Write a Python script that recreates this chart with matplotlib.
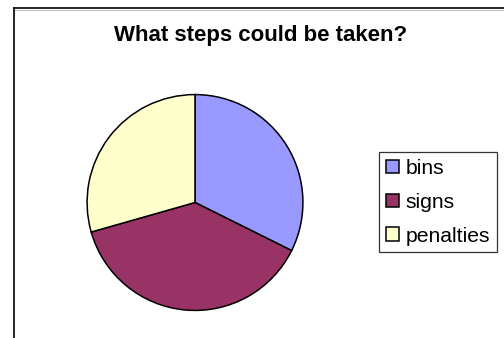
import matplotlib
matplotlib.use("Agg")
import matplotlib.pyplot as plt
from matplotlib.lines import Line2D

# Survey answers
categories = ["bins", "signs", "penalties"]
counts = [11, 13, 10]
colors = ["#9999FF", "#993366", "#FFFFCC"]
title = "What steps could be taken?"

W, H = 504, 338
fig = plt.figure(figsize=(W / 100, H / 100), dpi=100)
fig.patch.set_facecolor("white")
plt.rcParams["font.family"] = ["Liberation Sans", "DejaVu Sans"]

def px(x0, y0, w, h):
    """Convert a pixel box (top-left origin) to figure fractions."""
    return [x0 / W, 1 - (y0 + h) / H, w / W, h / H]

# Pie area: centre (195, 202), radius 109 px
cx, cy, r = 195, 202.5, 109
ax = fig.add_axes(px(cx - r, cy - r, 2 * r, 2 * r))
wedges, _ = ax.pie(counts, colors=colors, startangle=90, counterclock=False,
                   radius=1.0,
                   wedgeprops=dict(edgecolor="black", linewidth=1.1))
ax.set_xlim(-1.01, 1.01)
ax.set_ylim(-1.01, 1.01)
ax.set_aspect("equal")
ax.axis("off")

# Title
fig.text(261 / W, 1 - 40.5 / H, title, ha="center", va="baseline",
         fontsize=16.0, fontweight="bold", color="black")

# Legend
leg = fig.legend(wedges, categories, loc="upper left",
                 bbox_to_anchor=(379 / W, 1 - 152 / H),
                 bbox_transform=fig.transFigure,
                 fontsize=15.2, frameon=True, fancybox=False,
                 handlelength=0.6, handleheight=0.6, handletextpad=0.33,
                 labelspacing=0.7, borderpad=0.33, borderaxespad=0)
leg.get_frame().set_edgecolor("black")
leg.get_frame().set_linewidth(0.9)
for h in leg.legend_handles:
    h.set_linewidth(1.1)
    h.set_edgecolor("black")

# Chart frame (top and left edges)
fig.add_artist(Line2D([14 / W, 1.0], [1 - 8 / H, 1 - 8 / H],
                      transform=fig.transFigure, color="black", linewidth=1.2))
fig.add_artist(Line2D([14 / W, 1.0], [1 - 9.6 / H, 1 - 9.6 / H],
                      transform=fig.transFigure, color="#b0b0b0", linewidth=0.6))
fig.add_artist(Line2D([14 / W, 14 / W], [1 - 8 / H, 0],
                      transform=fig.transFigure, color="black", linewidth=1.2))

fig.savefig("out.png", dpi=100)
